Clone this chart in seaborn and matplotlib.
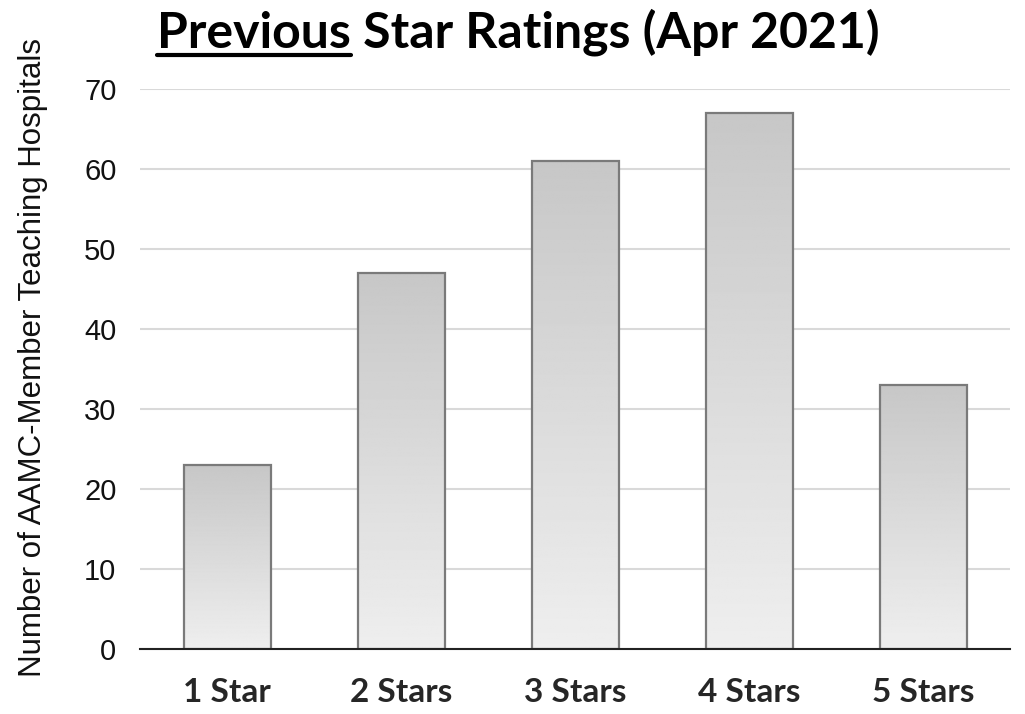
import numpy as np
import pandas as pd
import matplotlib
matplotlib.use("Agg")
import matplotlib.pyplot as plt
import seaborn as sns
from matplotlib.lines import Line2D

ratings = ["1 Star", "2 Stars", "3 Stars", "4 Stars", "5 Stars"]
counts = [23, 47, 61, 67, 33]
y_ticks = [0, 10, 20, 30, 40, 50, 60, 70]

df = pd.DataFrame({"rating": ratings, "count": counts})

sns.set_theme(style="white")
plt.rcParams["font.family"] = ["Liberation Sans", "DejaVu Sans"]

fig = plt.figure(figsize=(10.25, 7.14), dpi=100)
ax = fig.add_axes([0.1366, 0.091, 0.849, 0.7843])

sns.barplot(data=df, x="rating", y="count", ax=ax, width=0.5,
            color="#d8d8d8", edgecolor="#7a7a7a", linewidth=1.6, zorder=3)

ax.set_ylim(0, 70)
ax.set_yticks(y_ticks)

# vertical gradient in each bar: darker at top, lighter at bottom
grad = np.linspace(0.935, 0.78, 256).reshape(-1, 1)
for bar in ax.patches:
    x0, y0 = bar.get_x(), bar.get_y()
    w, h = bar.get_width(), bar.get_height()
    bar.set_facecolor("none")
    im = ax.imshow(grad, cmap="gray", vmin=0, vmax=1, aspect="auto",
                   extent=[x0, x0 + w, y0, y0 + h], origin="lower", zorder=2)
    im.set_clip_path(bar)
ax.set_xlim(-0.5, len(ratings) - 0.5)
ax.set_ylim(0, 70)

ax.yaxis.grid(True, color="#d9d9d9", linewidth=1.5, zorder=0)
ax.set_axisbelow(True)
for s in ["top", "right", "left"]:
    ax.spines[s].set_visible(False)
ax.spines["bottom"].set_color("#222222")
ax.spines["bottom"].set_linewidth(1.5)
ax.spines["bottom"].set_zorder(4)

ax.tick_params(axis="y", length=0, pad=17, labelsize=21, labelcolor="#111111")
ax.tick_params(axis="x", length=0, pad=21)
for lbl in ax.get_xticklabels():
    lbl.set_fontfamily(["Lato", "DejaVu Sans"])
    lbl.set_fontweight("bold")
    lbl.set_fontsize(24)
ax.set_xlabel("")
ax.set_ylabel("Number of AAMC-Member Teaching Hospitals", fontsize=22.5,
              color="#111111")
ax.yaxis.set_label_coords(-0.106, 0.52)

# title with underlined first word
tfont = dict(fontfamily=["Lato", "DejaVu Sans"], fontweight="bold",
             fontsize=36, color="black")
t1 = fig.text(157 / 1025, 1 - 48 / 714, "Previous", ha="left",
              va="baseline", **tfont)
t2 = ax.annotate(" Star Ratings (Apr 2021)", xy=(1, 0), xycoords=t1,
                 ha="left", va="bottom", annotation_clip=False, **tfont)
fig.canvas.draw()
bb = t1.get_window_extent()
inv = fig.transFigure.inverted()
(x0, y0), (x1, _) = inv.transform([(bb.x0, bb.y0), (bb.x1, bb.y0)])
fig.add_artist(Line2D([x0, x1], [y0 + 0.002, y0 + 0.002],
                      transform=fig.transFigure, color="black", linewidth=3))

fig.savefig("out.png", dpi=100)
